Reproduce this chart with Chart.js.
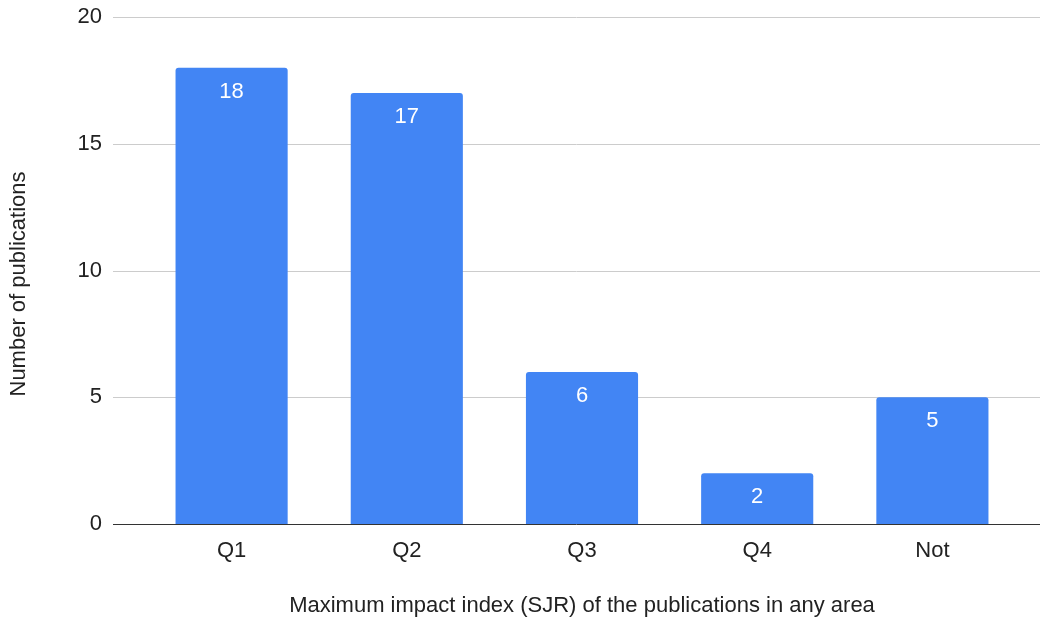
<!DOCTYPE html>
<html>
<head>
<meta charset="utf-8">
<script src="https://cdn.jsdelivr.net/npm/chart.js@4/dist/chart.umd.min.js"></script>
<style>
  html, body { margin: 0; padding: 0; background: #fff; }
  canvas { display: block; }
</style>
</head>
<body>
<canvas id="sjrChart" width="1041" height="622"></canvas>
<script>
const categories = ['Q1', 'Q2', 'Q3', 'Q4', 'Not'];
const publications = [18, 17, 6, 2, 5];
const yTicks = [0, 5, 10, 15, 20];

const FONT = '"Liberation Sans", Arial, sans-serif';
const FONT_SIZE = 22;

// horizontal grid lines run wider than the category band
const wideGrid = {
    id: 'wideGrid',
    beforeDatasetsDraw(chart) {
        const ctx = chart.ctx;
        const y = chart.scales.y;
        ctx.save();
        yTicks.forEach(v => {
            const py = Math.round(y.getPixelForValue(v)) + 0.5;
            ctx.beginPath();
            ctx.strokeStyle = v === 0 ? '#333333' : '#cccccc';
            ctx.lineWidth = 1;
            ctx.moveTo(113, py);
            ctx.lineTo(1040, py);
            ctx.stroke();
        });
        ctx.restore();
    }
};

// value labels inside the top of each bar
const barLabels = {
    id: 'barLabels',
    afterDatasetsDraw(chart) {
        const ctx = chart.ctx;
        const meta = chart.getDatasetMeta(0);
        ctx.save();
        ctx.fillStyle = '#ffffff';
        ctx.font = FONT_SIZE + 'px ' + FONT;
        ctx.textAlign = 'center';
        ctx.textBaseline = 'middle';
        meta.data.forEach((bar, i) => {
            ctx.fillText(String(publications[i]), bar.x, bar.y + 24);
        });
        ctx.restore();
    }
};

// y axis title, centred on the whole canvas height rather than the plot
const yTitle = {
    id: 'yTitle',
    afterDraw(chart) {
        const ctx = chart.ctx;
        ctx.save();
        ctx.translate(19, 284);
        ctx.rotate(-Math.PI / 2);
        ctx.fillStyle = '#222';
        ctx.font = FONT_SIZE + 'px ' + FONT;
        ctx.textAlign = 'center';
        ctx.textBaseline = 'middle';
        ctx.fillText('Number of publications', 0, 0);
        ctx.restore();
    }
};

new Chart(document.getElementById('sjrChart').getContext('2d'), {
    type: 'bar',
    data: {
        labels: categories,
        datasets: [{
            data: publications,
            backgroundColor: '#4285f4',
            borderRadius: { topLeft: 3, topRight: 3 },
            borderSkipped: 'bottom',
            categoryPercentage: 1,
            barPercentage: 0.64
        }]
    },
    options: {
        responsive: false,
        animation: false,
        layout: { padding: { top: 17, right: 21, bottom: 0, left: 0 } },
        plugins: {
            legend: { display: false },
            tooltip: { enabled: false }
        },
        scales: {
            x: {
                grid: { display: false, drawTicks: false },
                border: { display: false },
                ticks: { color: '#222', font: { family: FONT, size: FONT_SIZE }, padding: 14 },
                title: {
                    display: true,
                    text: 'Maximum impact index (SJR) of the publications in any area',
                    color: '#222',
                    font: { family: FONT, size: FONT_SIZE },
                    padding: { top: 30, bottom: 3 }
                },
                afterFit(scale) { scale.height = 98; scale.paddingLeft = 0; scale.paddingRight = 0; }
            },
            y: {
                min: 0,
                max: 20,
                afterBuildTicks(scale) { scale.ticks = yTicks.map(v => ({ value: v })); },
                grid: { display: false, drawTicks: false },
                border: { display: false },
                ticks: { color: '#222', font: { family: FONT, size: FONT_SIZE }, padding: 42 },
                title: { display: false },
                afterFit(scale) { scale.width = 144; scale.paddingTop = 0; scale.paddingBottom = 0; }
            }
        }
    },
    plugins: [wideGrid, barLabels, yTitle]
});
</script>
</body>
</html>
